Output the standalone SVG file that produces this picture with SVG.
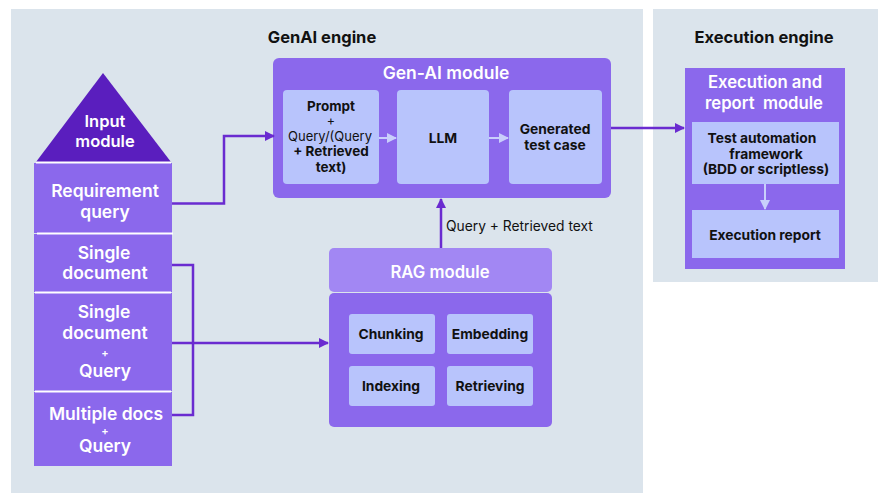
<svg xmlns="http://www.w3.org/2000/svg" width="878" height="494" viewBox="0 0 878 494">
<defs>
<style>
.panel{fill:#dbe4ec}
.mod{fill:#8b68ec}
.inner{fill:#b8c4fc}
.wt{font-family:"Inter","Liberation Sans",sans-serif;font-weight:600;fill:#ffffff;text-anchor:middle}
.bt{font-family:"Inter","Liberation Sans",sans-serif;font-weight:700;fill:#111111;text-anchor:middle}
.rt{font-family:"Inter","Liberation Sans",sans-serif;font-weight:400;fill:#111111}
.conn{fill:none;stroke:#6a2bd0;stroke-width:2.5}
.lconn{fill:none;stroke:#c9cffb;stroke-width:2}
.sep{stroke:#ffffff;stroke-width:2}
</style>
<marker id="ah" viewBox="0 0 10 10" refX="9" refY="5" markerWidth="4" markerHeight="4" orient="auto" markerUnits="strokeWidth">
<path d="M0,0 L10,5 L0,10 z" fill="#6a2bd0"/>
</marker>
<marker id="lah" viewBox="0 0 10 10" refX="9" refY="5" markerWidth="5" markerHeight="5" orient="auto" markerUnits="strokeWidth">
<path d="M0,0 L10,5 L0,10 z" fill="#c9cffb"/>
</marker>
</defs>
<rect width="878" height="494" fill="#ffffff"/>
<g id="genai-engine">
<rect class="panel" x="11" y="9" width="632" height="484"/>
<text class="bt" x="322" y="43" font-size="16.5">GenAI engine</text>
</g>
<g id="execution-engine">
<rect class="panel" x="653" y="9" width="225" height="273"/>
<text class="bt" x="764" y="43" font-size="16.5">Execution engine</text>
</g>

<g id="input-module">
<polygon points="103,73 171,162 36,162" fill="#5a1ebe"/>
<text class="wt" x="105" y="127" font-size="16.5">Input</text>
<text class="wt" x="105" y="147" font-size="16.5">module</text>
</g>
<g id="requirement-query">
<rect class="mod" x="34" y="163" width="138" height="70"/>
<text class="wt" x="105" y="197" font-size="17.5">Requirement</text>
<text class="wt" x="105" y="218" font-size="17.5">query</text>
</g>
<g id="single-document">
<rect class="mod" x="34" y="234" width="138" height="58"/>
<text class="wt" x="104" y="259" font-size="17.5">Single</text>
<text class="wt" x="105" y="279" font-size="17.5">document</text>
</g>
<g id="single-document-query">
<rect class="mod" x="34" y="293" width="138" height="98"/>
<text class="wt" x="104" y="318" font-size="17.5">Single</text>
<text class="wt" x="105" y="339" font-size="17.5">document</text>
<text class="wt" x="105" y="357" font-size="11">+</text>
<text class="wt" x="105" y="377" font-size="17.5">Query</text>
</g>
<g id="multiple-docs">
<rect class="mod" x="34" y="392" width="138" height="74"/>
<text class="wt" x="106" y="420" font-size="17.5">Multiple docs</text>
<text class="wt" x="105" y="435" font-size="11">+</text>
<text class="wt" x="105" y="452" font-size="17.5">Query</text>
</g>
<g id="separators">
<line class="sep" x1="36" y1="162.5" x2="171" y2="162.5"/>
<line class="sep" x1="37" y1="233.5" x2="173" y2="233.5"/>
<line class="sep" x1="35" y1="292.5" x2="171" y2="292.5"/>
<line class="sep" x1="35" y1="391.5" x2="171" y2="391.5"/>
</g>

<g id="genai-module">
<rect class="mod" x="273" y="58" width="338" height="140" rx="6"/>
<text class="wt" x="446" y="79" font-size="17.5">Gen-AI module</text>
</g>
<g id="prompt">
<rect class="inner" x="283" y="90" width="96" height="94" rx="4"/>
<text class="bt" x="331" y="111" font-size="13.5">Prompt</text>
<text class="rt" x="331" y="125" font-size="12.5" text-anchor="middle">+</text>
<text class="rt" x="330" y="141" font-size="13" text-anchor="middle">Query/(Query</text>
<text class="bt" x="331" y="156" font-size="13.5">+ Retrieved</text>
<text class="bt" x="331" y="172" font-size="13.5">text)</text>
</g>
<g id="llm">
<rect class="inner" x="397" y="90" width="92" height="94" rx="4"/>
<text class="bt" x="443" y="143" font-size="13.8">LLM</text>
</g>
<g id="generated-test-case">
<rect class="inner" x="509" y="90" width="93" height="94" rx="4"/>
<text class="bt" x="555" y="134" font-size="13.8">Generated</text>
<text class="bt" x="555" y="150" font-size="13.8">test case</text>
</g>

<g id="execution-module">
<rect class="mod" x="685" y="68" width="160" height="201"/>
<text class="wt" x="765" y="88" font-size="16.7">Execution and</text>
<text class="wt" x="764" y="109" font-size="16.7" xml:space="preserve">report  module</text>
</g>
<g id="test-automation">
<rect class="inner" x="692" y="122" width="147" height="62"/>
<text class="bt" x="762" y="143" font-size="13.8">Test automation</text>
<text class="bt" x="766" y="159" font-size="13.8">framework</text>
<text class="bt" x="766" y="174" font-size="13.8">(BDD or scriptless)</text>
</g>
<g id="execution-report">
<rect class="inner" x="692" y="210" width="147" height="48"/>
<text class="bt" x="765" y="240" font-size="13.8">Execution report</text>
</g>

<g id="rag-module">
<rect x="329" y="248" width="223" height="44" rx="5" fill="#a287f3"/>
<rect class="mod" x="329" y="293" width="223" height="134" rx="5"/>
<text class="wt" x="440" y="278" font-size="16.7">RAG module</text>
</g>
<g id="chunking">
<rect class="inner" x="349" y="314" width="86" height="40" rx="3"/>
<text class="bt" x="391" y="339" font-size="13.8">Chunking</text>
</g>
<g id="embedding">
<rect class="inner" x="447" y="314" width="86" height="40" rx="3"/>
<text class="bt" x="490" y="339" font-size="13.8">Embedding</text>
</g>
<g id="indexing">
<rect class="inner" x="349" y="366" width="86" height="40" rx="3"/>
<text class="bt" x="391" y="391" font-size="13.8">Indexing</text>
</g>
<g id="retrieving">
<rect class="inner" x="447" y="366" width="86" height="40" rx="3"/>
<text class="bt" x="490" y="391" font-size="13.8">Retrieving</text>
</g>

<g id="connectors">
<polyline class="conn" points="172,203.5 224,203.5 224,136 274,136" marker-end="url(#ah)"/>
<polyline class="conn" points="172,265 193,265 193,415 172,415"/>
<line class="conn" x1="172" y1="343" x2="328" y2="343" marker-end="url(#ah)"/>
<line class="conn" x1="441" y1="248" x2="441" y2="199" marker-end="url(#ah)"/>
<text class="rt" x="446" y="231" font-size="13.8">Query + Retrieved text</text>
<line class="conn" x1="611" y1="128" x2="684" y2="128" marker-end="url(#ah)"/>
<line class="lconn" x1="379" y1="138" x2="396" y2="138" marker-end="url(#lah)"/>
<line class="lconn" x1="489" y1="138" x2="508" y2="138" marker-end="url(#lah)"/>
<line class="lconn" x1="765" y1="184" x2="765" y2="209" marker-end="url(#lah)"/>
</g>
</svg>
